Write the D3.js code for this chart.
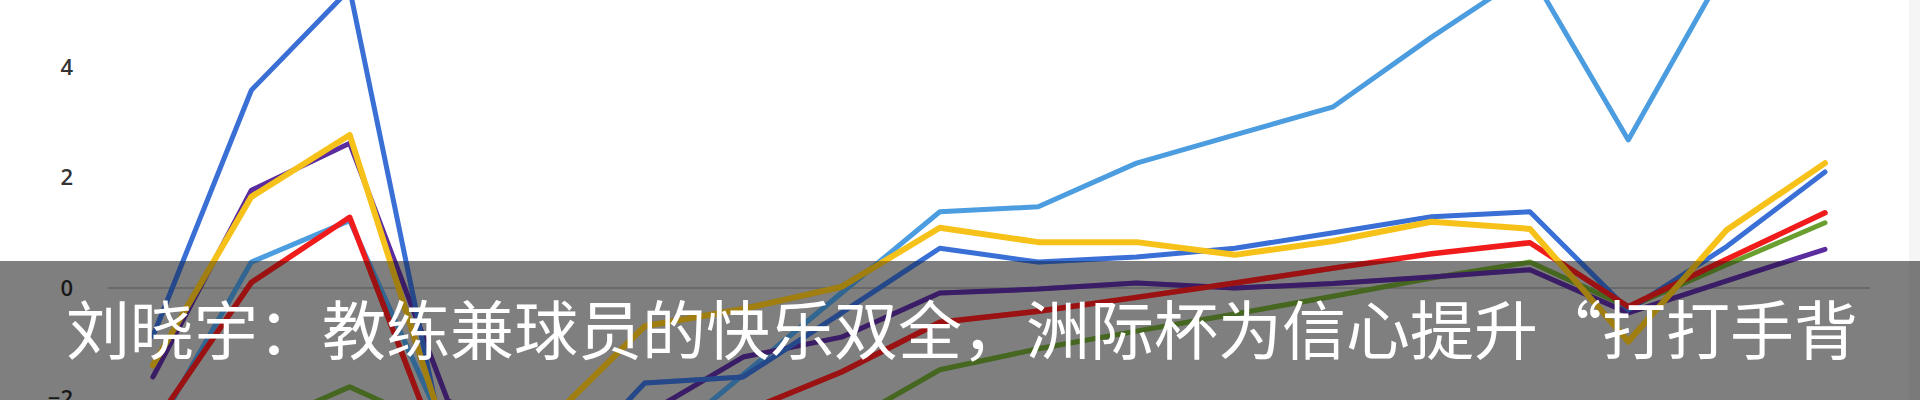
<!DOCTYPE html>
<html>
<head>
<meta charset="utf-8">
<script src="https://cdn.jsdelivr.net/npm/d3@7"></script>
<style>
  html, body { margin: 0; padding: 0; background: #fff; overflow: hidden; }
  svg { display: block; }
</style>
</head>
<body>
<div id="chart"></div>
<script>
// ---- data ----
const categories = ["1","2","3","4","5","6","7","8","9","10","11","12","13","14","15","16","17","18"];
const seriesNames = ["浅蓝", "绿", "紫", "深蓝", "红", "黄"];
const lightBlue = [-2.65, 0.47, 1.22, -2.7, -3.0, -3.05, -1.57, -0.09, 1.38, 1.47, 2.26, 2.77, 3.28, 4.54, 5.72, 2.68, 5.83, 6.0];
const green     = [-3.3, -2.57, -1.79, -2.6, -3.3, -3.1, -2.9, -2.5, -1.48, -1.1, -0.78, -0.47, -0.15, 0.18, 0.47, -0.35, 0.42, 1.18];
const purple    = [-1.61, 1.77, 2.62, -2.05, -2.6, -2.3, -1.25, -0.89, -0.09, -0.02, 0.09, 0.0, 0.08, 0.2, 0.33, -0.45, 0.13, 0.7];
const darkBlue  = [-0.87, 3.58, 5.41, -3.2, -3.6, -1.72, -1.61, -0.45, 0.72, 0.47, 0.56, 0.72, 1.0, 1.29, 1.38, -0.4, 0.75, 2.1];
const red       = [-2.5, 0.1, 1.28, -3.35, -3.0, -2.6, -2.25, -1.52, -0.62, -0.42, -0.17, 0.09, 0.36, 0.62, 0.82, -0.34, 0.52, 1.36];
const yellow    = [-1.4, 1.65, 2.77, -2.8, -2.45, -0.69, -0.38, 0.02, 1.09, 0.83, 0.83, 0.6, 0.85, 1.2, 1.07, -0.97, 1.05, 2.26];
const yTicks = [-2, 0, 2, 4];
const caption = "刘晓宇：教练兼球员的快乐双全，洲际杯为信心提升“打打手背";

// ---- styles ----
const colors = ["#4c9de0", "#6a9f30", "#5a2c9e", "#3a6fd6", "#f01c1c", "#f6c21a"];
const widths = [5, 5, 5, 5, 5.5, 6];
const allSeries = [lightBlue, green, purple, darkBlue, red, yellow];

const W = 1920, H = 400, bandTop = 261;
const svg = d3.select("#chart").append("svg").attr("width", W).attr("height", H);

svg.append("defs").append("clipPath").attr("id", "band")
  .append("rect").attr("x", 0).attr("y", bandTop).attr("width", W).attr("height", H - bandTop);

const x = d3.scalePoint().domain(categories).range([153, 1825]);
const y = d3.scaleLinear().domain([-2, 4]).range([398.5, 67]);

// zero line
svg.append("line")
  .attr("x1", 108).attr("x2", 1870)
  .attr("y1", y(0)).attr("y2", y(0))
  .attr("stroke", "#d2d2d2").attr("stroke-width", 2);

// y axis labels
const yAxis = d3.axisLeft(y).tickValues(yTicks).tickSize(0).tickPadding(35).tickFormat(d3.format("d"));
const gy = svg.append("g").attr("transform", "translate(108,0)").call(yAxis);
gy.select(".domain").remove();
gy.selectAll("text")
  .attr("font-family", "'Open Sans', 'DejaVu Sans', sans-serif")
  .attr("font-size", 22)
  .attr("font-weight", 600)
  .attr("fill", "#333");

// lines
const line = d3.line()
  .x((d, i) => x(categories[i]))
  .y(d => y(d));

function drawLines(g) {
  g.selectAll("path")
    .data(allSeries)
    .join("path")
    .attr("d", d => line(d))
    .attr("fill", "none")
    .attr("stroke", (d, i) => colors[i])
    .attr("stroke-width", (d, i) => widths[i])
    .attr("stroke-linejoin", "round")
    .attr("stroke-linecap", "round");
}
svg.append("g").call(drawLines);

// faint right edge strip
svg.append("rect").attr("x", 1909).attr("y", 0).attr("width", 11).attr("height", H).attr("fill", "#f5f5f5");

// caption band
svg.append("rect")
  .attr("x", 0).attr("y", bandTop).attr("width", W).attr("height", H - bandTop)
  .attr("fill", "#000").attr("fill-opacity", 0.5);

// lines showing through the band a little more vividly
svg.append("g").attr("clip-path", "url(#band)").attr("opacity", 0.3).call(drawLines);

svg.append("text")
  .attr("x", 66).attr("y", 354)
  .attr("font-family", "'Noto Sans CJK SC', sans-serif")
  .attr("font-size", 64)
  .attr("fill", "#ffffff")
  .text(caption);
</script>
</body>
</html>
